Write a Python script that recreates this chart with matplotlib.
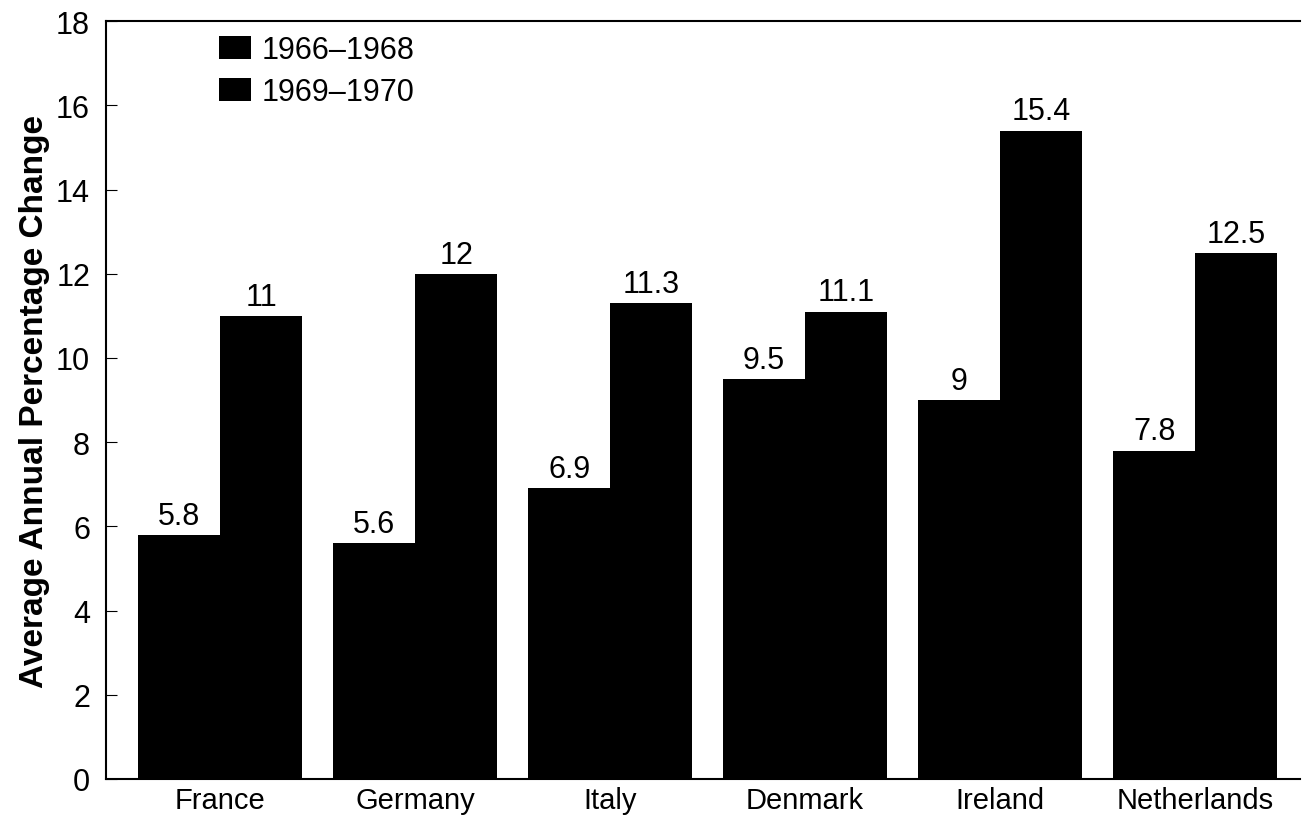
import numpy as np
import matplotlib.pyplot as plt

plt.rcParams['font.family'] = ['Liberation Sans', 'DejaVu Sans']

countries = ['France', 'Germany', 'Italy', 'Denmark', 'Ireland', 'Netherlands']
vals_1966_68 = [5.8, 5.6, 6.9, 9.5, 9.0, 7.8]
vals_1969_70 = [11.0, 12.0, 11.3, 11.1, 15.4, 12.5]
labels_1966_68 = ['5.8', '5.6', '6.9', '9.5', '9', '7.8']
labels_1969_70 = ['11', '12', '11.3', '11.1', '15.4', '12.5']

fig = plt.figure(figsize=(13.03, 8.2), dpi=100)
ax = fig.add_axes([0.0814, 0.0488, 0.9166, 0.9242])

x = np.arange(len(countries))
w = 0.42
b1 = ax.bar(x - w / 2, vals_1966_68, w, color='black', label='1966\u20131968')
b2 = ax.bar(x + w / 2, vals_1969_70, w, color='black', label='1969\u20131970')

for bars, labs in ((b1, labels_1966_68), (b2, labels_1969_70)):
    for rect, lab in zip(bars, labs):
        ax.annotate(lab, (rect.get_x() + rect.get_width() / 2, rect.get_height()),
                    xytext=(0, 3), textcoords='offset points',
                    ha='center', va='bottom', fontsize=22)

ax.set_xlim(-0.585, 5.54)
ax.set_ylim(0, 18)
ax.set_yticks(range(0, 19, 2))
ax.set_xticks(x)
ax.set_xticklabels(countries)
ax.tick_params(axis='y', direction='in', length=8, labelsize=22, pad=11.5)
ax.tick_params(axis='x', length=0, labelsize=21, pad=5)
ax.spines['right'].set_visible(False)
for s in ('left', 'top', 'bottom'):
    ax.spines[s].set_linewidth(1.5)
ax.set_ylabel('Average Annual Percentage Change', fontsize=24, fontweight='bold', labelpad=4)

ax.legend(loc='upper left', bbox_to_anchor=(0.083, 1.0), frameon=False, fontsize=22,
          borderaxespad=0, borderpad=0.45,
          handlelength=1.05, handleheight=0.8, handletextpad=0.35, labelspacing=0.4)

fig.savefig('out.png', dpi=100)
